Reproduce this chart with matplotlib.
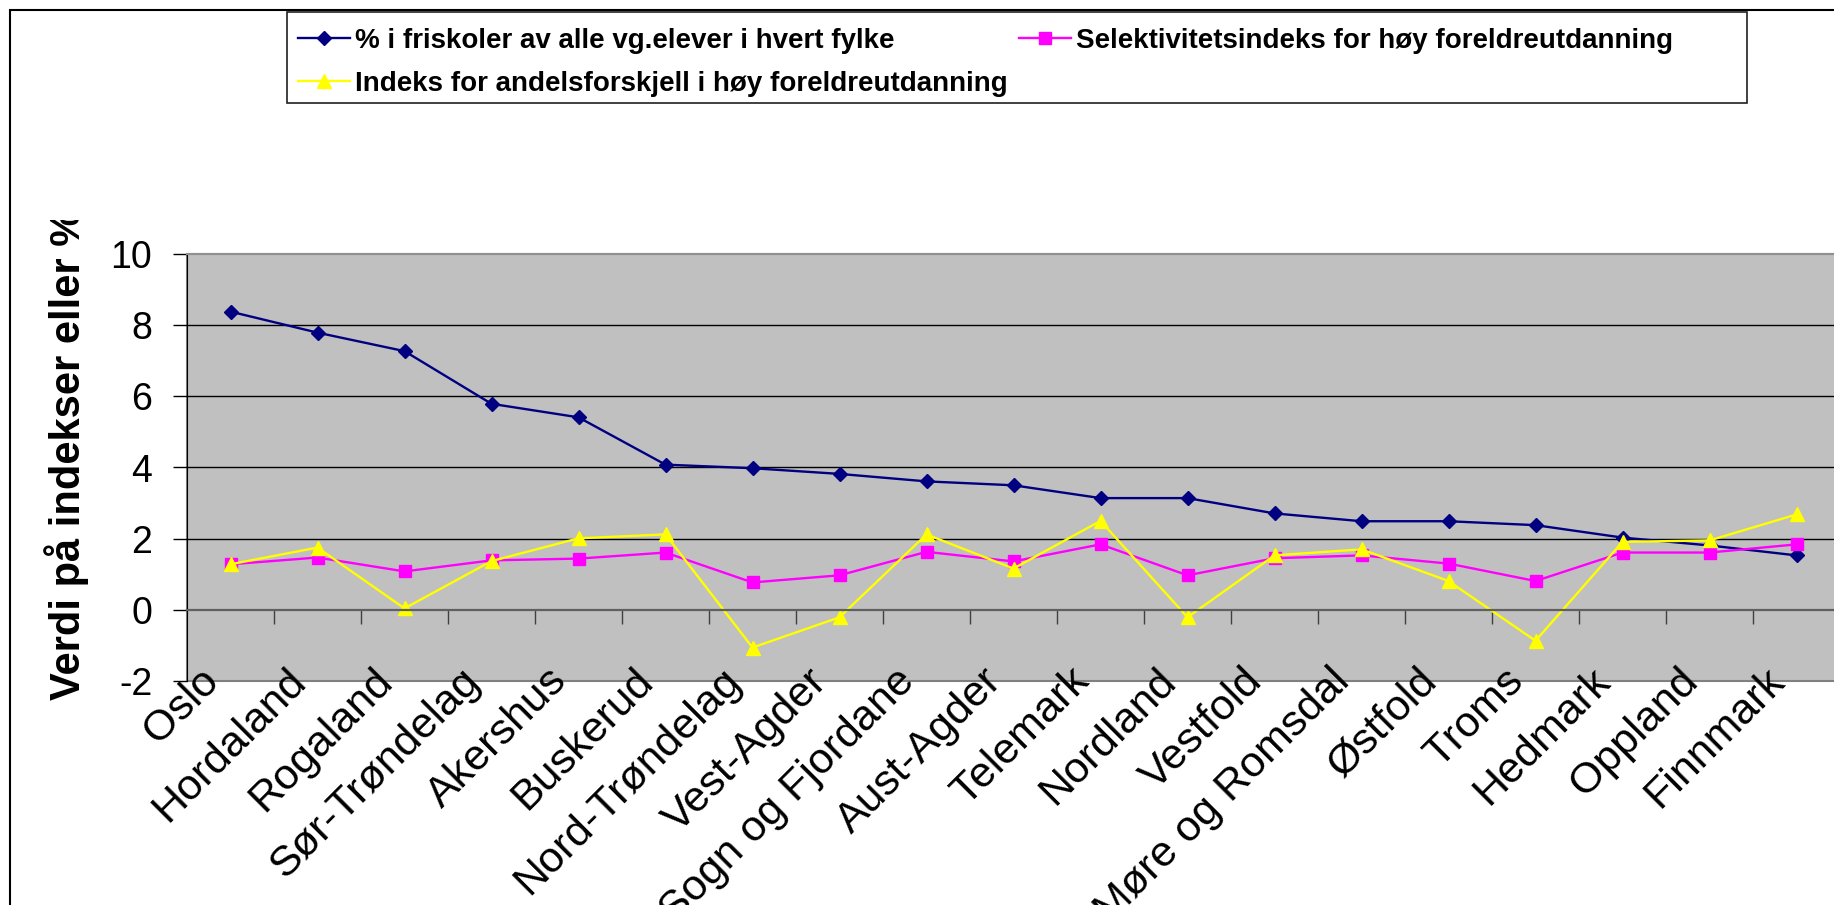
import matplotlib
matplotlib.use("Agg")
import matplotlib.pyplot as plt
from matplotlib.patches import Rectangle
from matplotlib.transforms import Bbox, TransformedBbox, ScaledTranslation

plt.rcParams['font.family'] = ['Liberation Sans', 'DejaVu Sans']
plt.rcParams['axes.unicode_minus'] = False

# data
fylker = ["Oslo", "Hordaland", "Rogaland", "Sør-Trøndelag", "Akershus", "Buskerud",
          "Nord-Trøndelag", "Vest-Agder", "Sogn og Fjordane", "Aust-Agder", "Telemark",
          "Nordland", "Vestfold", "Møre og Romsdal", "Østfold", "Troms", "Hedmark",
          "Oppland", "Finnmark"]
friskoler = [8.38, 7.79, 7.27, 5.79, 5.41, 4.08, 3.98, 3.82, 3.61, 3.50, 3.14,
             3.14, 2.71, 2.49, 2.49, 2.38, 2.03, 1.81, 1.53]
selektivitet = [1.28, 1.47, 1.08, 1.39, 1.44, 1.61, 0.77, 0.97, 1.63, 1.36, 1.84,
                0.97, 1.45, 1.53, 1.30, 0.81, 1.61, 1.61, 1.84]
andelsforskjell = [1.28, 1.75, 0.04, 1.37, 2.01, 2.12, -1.06, -0.21, 2.12, 1.16, 2.50,
                   -0.21, 1.53, 1.70, 0.81, -0.87, 1.91, 1.95, 2.68]
yticks = [-2, 0, 2, 4, 6, 8, 10]
gridvals = [2, 4, 6, 8]

lab1 = "% i friskoler av alle vg.elever i hvert fylke"
lab2 = "Selektivitetsindeks for høy foreldreutdanning"
lab3 = "Indeks for andelsforskjell i høy foreldreutdanning"

W, H = 1834, 905
fig = plt.figure(figsize=(W / 100, H / 100), dpi=100)
ax = fig.add_axes([187 / W, (H - 681) / H, 1653 / W, 427 / H])
ax.set_facecolor("#C0C0C0")

x = list(range(len(fylker)))
l1, = ax.plot(x, friskoler, color="#000080", lw=1.7, marker="D", ms=6.8, label=lab1)
l2, = ax.plot(x, selektivitet, color="#FF00FF", lw=1.7, marker="s", ms=8.5, label=lab2)
l3, = ax.plot(x, andelsforskjell, color="#FFFF00", lw=1.7, marker="^", ms=9.5, label=lab3)

ax.set_xlim(-0.5, len(fylker) - 0.5)
ax.set_ylim(-2, 10)

# y axis
ax.set_yticks(yticks)
ax.tick_params(axis="y", which="major", direction="out", length=10, width=1,
               pad=15, labelsize=27, color="black")
ax.yaxis.remove_overlapping_locs = False
ax.set_yticks(gridvals, minor=True)
ax.tick_params(axis="y", which="minor", length=0)
ax.grid(axis="y", which="minor", color="black", lw=1)

# category axis crosses at 0, labels low
ax.spines["bottom"].set_position(("data", 0))
ax.spines["bottom"].set_color("#606060")
ax.spines["bottom"].set_linewidth(1.6)
ax.set_xticks([i + 0.5 for i in x[:-1]], minor=True)
ax.tick_params(axis="x", which="minor", direction="out", length=10, width=1,
               color="#404040")
ax.set_xticks(x)
ax.set_xticklabels(fylker, rotation=45, ha="right", va="center",
                   rotation_mode="anchor", fontsize=31)
ax.tick_params(axis="x", which="major", length=0, pad=52)
offset = ScaledTranslation(-18 / 100, 7 / 100, fig.dpi_scale_trans)
for t in ax.get_xticklabels():
    t.set_transform(t.get_transform() + offset)

ax.spines["left"].set_color("black")
ax.spines["top"].set_color("#909090")
ax.spines["top"].set_linewidth(1.5)
ax.spines["right"].set_visible(False)
ax.patch.set_edgecolor("#808080")
ax.patch.set_linewidth(1.5)

ylab = ax.set_ylabel("Verdi på indekser eller %", fontsize=30, fontweight="bold")
ax.yaxis.set_label_coords(-0.0593, 0.53)
ylab.set_clip_box(TransformedBbox(Bbox.from_extents(0, 0, 1, (H - 220) / H), fig.transFigure))
ylab.set_clip_on(True)

# legend
leg = fig.legend(handles=[l1, l3, l2], ncol=2, frameon=False,
                 prop={"weight": "bold", "size": 20},
                 loc="upper left", bbox_to_anchor=(298 / W, (H - 28) / H),
                 handlelength=1.86, handletextpad=0.2, columnspacing=0.4,
                 labelspacing=0.62, borderpad=0, borderaxespad=0)
fig.add_artist(Rectangle((287 / W, (H - 103) / H), 1460 / W, 91 / H, fill=False,
                         ec="#202020", lw=1.2, transform=fig.transFigure))

# chart frame
fig.add_artist(Rectangle((10 / W, -0.1), 1.2, (H - 10) / H + 0.1, fill=False,
                         ec="black", lw=1.5, transform=fig.transFigure))

fig.savefig("out.png", dpi=100)
